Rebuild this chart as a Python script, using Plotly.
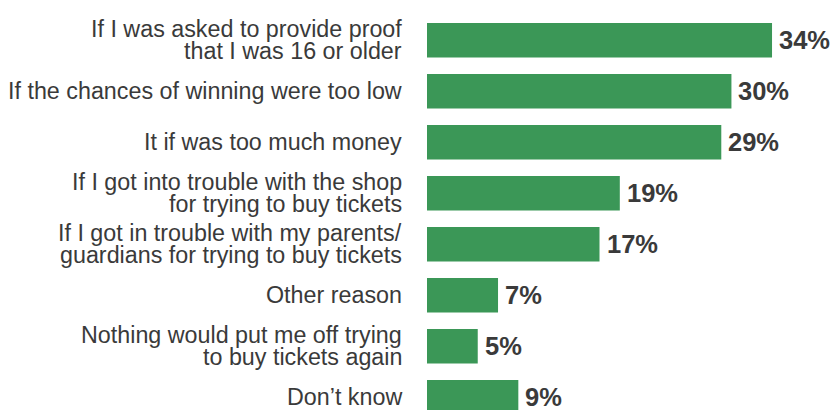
import plotly.graph_objects as go

# Reasons that would put respondents off trying to buy tickets again
categories = [
    "If I was asked to provide proof\nthat I was 16 or older",
    "If the chances of winning were too low",
    "It if was too much money",
    "If I got into trouble with the shop\nfor trying to buy tickets",
    "If I got in trouble with my parents/\nguardians for trying to buy tickets",
    "Other reason",
    "Nothing would put me off trying\nto buy tickets again",
    "Don\u2019t know",
]
values = [34, 30, 29, 19, 17, 7, 5, 9]

BAR_COLOR = "#3b9757"
TEXT_COLOR = "#3a3a3a"
FONT = "Liberation Sans, Arial, sans-serif"
LABEL_SIZE = 23.3
VALUE_SIZE = 25.5
LINE_STEP = 22.5  # px between stacked label lines

positions = list(range(len(categories)))

fig = go.Figure(
    go.Bar(
        x=values,
        y=positions,
        orientation="h",
        width=0.676,
        marker=dict(color=BAR_COLOR, line=dict(width=0)),
        hoverinfo="skip",
    )
)

annotations = []
for pos, label, val in zip(positions, categories, values):
    lines = label.split("\n")
    n = len(lines)
    for k, line in enumerate(lines):
        offset = (k - (n - 1) / 2) * LINE_STEP
        annotations.append(dict(
            x=0, y=pos, xref="x", yref="y",
            text=line, showarrow=False,
            xanchor="right", yanchor="middle",
            xshift=-23, yshift=-offset,
            font=dict(family=FONT, size=LABEL_SIZE, color=TEXT_COLOR),
        ))
    annotations.append(dict(
        x=val, y=pos, xref="x", yref="y",
        text=f"<b>{val}%</b>", showarrow=False,
        xanchor="left", yanchor="middle",
        xshift=5,
        font=dict(family=FONT, size=VALUE_SIZE, color=TEXT_COLOR),
    ))

fig.update_layout(
    width=832, height=410,
    margin=dict(l=427, r=0, t=0, b=0),
    paper_bgcolor="white", plot_bgcolor="white",
    showlegend=False,
    xaxis=dict(range=[0, 39.91], visible=False, fixedrange=True),
    yaxis=dict(range=[7.251, -0.788], visible=False, fixedrange=True),
    annotations=annotations,
)

fig.write_html("out.html")
